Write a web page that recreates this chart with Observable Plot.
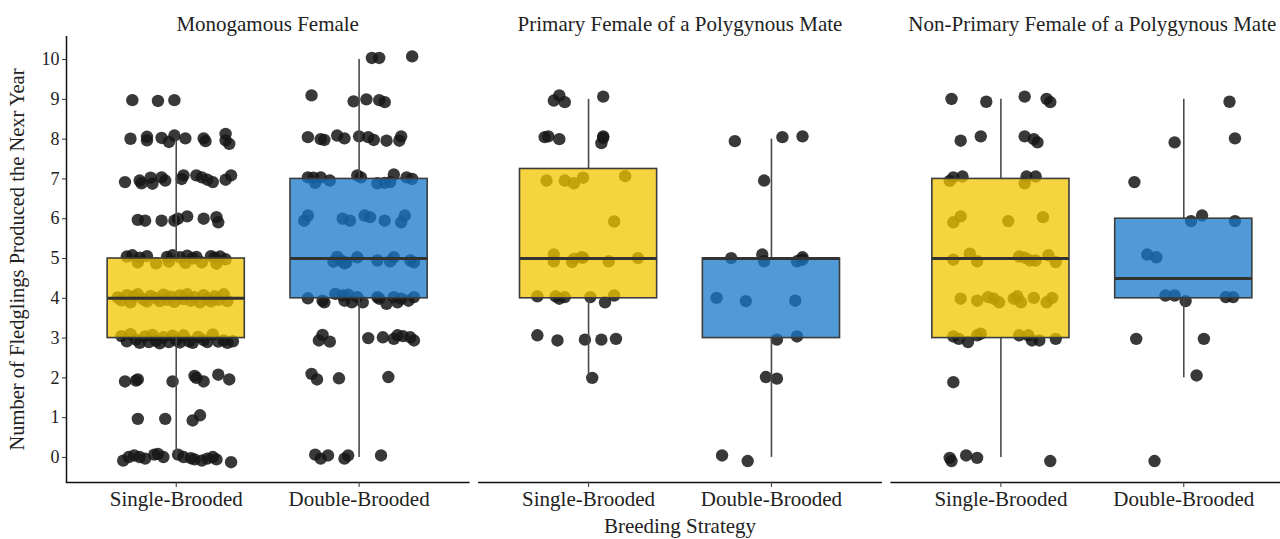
<!DOCTYPE html>
<html><head><meta charset="utf-8">
<script src="https://cdn.jsdelivr.net/npm/d3@7"></script>
<script src="https://cdn.jsdelivr.net/npm/@observablehq/plot@0.6"></script>
<style>
html,body{margin:0;padding:0;background:#fff;overflow:hidden;}
#chart svg{max-width:none !important;display:block;}
</style></head><body><div id="chart"></div>
<script>
// ---- categories & labels ----
const panels = ["Monogamous Female", "Primary Female of a Polygynous Mate", "Non-Primary Female of a Polygynous Mate"];
const groups = ["Single-Brooded", "Double-Brooded"];
const yTicks = [0,1,2,3,4,5,6,7,8,9,10];
const yLabel = "Number of Fledglings Produced the Nexr Year";
const xLabel = "Breeding Strategy";

// ---- box statistics ----
const boxPanel  = [panels[0], panels[0], panels[1], panels[1], panels[2], panels[2]];
const boxGroup  = [1, 2, 1, 2, 1, 2];
const boxQ1     = [3, 4, 4, 3, 3, 4];
const boxMedian = [4, 5, 5, 5, 5, 4.5];
const boxQ3     = [5, 7, 7.25, 5, 7, 6];
const whiskerLo = [0, 0, 2, 0, 0, 2];
const whiskerHi = [8, 10, 9, 8, 9, 9];

// ---- jittered observations (x jitter in group units, y as plotted) ----
const monoSingleJitter = [
 -0.24,-0.10,-0.01,
 -0.25,-0.16,-0.16,-0.08,-0.04,-0.01,0.05,0.15,0.16,0.27,0.29,0.27,
 -0.28,-0.20,-0.19,-0.14,-0.13,-0.08,-0.06,0.03,0.04,0.11,0.14,0.17,0.20,0.27,0.30,
 -0.21,-0.17,-0.08,-0.01,0.01,0.06,0.15,0.22,0.23,
 -0.27,-0.24,-0.20,-0.16,-0.05,-0.02,0.02,0.06,0.09,0.11,0.19,0.21,0.24,0.27,
 -0.21,-0.11,-0.04,0.05,0.14,0.22,
 -0.32,-0.30,-0.27,-0.25,-0.23,-0.21,-0.18,-0.16,-0.14,-0.11,-0.09,-0.07,-0.05,-0.03,-0.01,0.02,0.04,0.06,0.08,0.10,0.13,0.15,0.17,0.19,0.21,0.23,0.26,0.28,
 -0.30,-0.27,-0.25,-0.22,-0.20,-0.17,-0.15,-0.13,-0.11,-0.09,-0.07,-0.04,-0.02,0.00,0.02,0.04,0.07,0.09,0.12,0.15,0.17,0.20,0.23,0.26,0.28,0.31,
 -0.28,-0.22,-0.21,-0.02,0.10,0.11,0.15,0.23,0.29,
 -0.21,-0.06,0.09,0.13,
 -0.29,-0.26,-0.23,-0.20,-0.17,-0.12,-0.10,-0.07,0.01,0.04,0.08,0.10,0.14,0.17,0.20,0.22,0.30
];
const monoSingleValue = [
 8.98,8.96,8.98,
 8.01,8.06,7.97,8.03,7.93,8.09,8.02,8.02,7.95,8.13,7.88,7.97,
 6.92,6.96,6.89,7.03,6.88,7.04,6.96,7.0,7.09,7.09,7.04,6.98,6.92,6.98,7.09,
 5.97,5.95,5.95,5.95,6.0,6.06,6.0,6.04,5.91,
 5.05,5.08,5.02,5.06,5.04,5.08,5.03,5.07,5.0,5.04,5.06,5.02,5.05,4.98,
 4.9,4.88,4.92,4.89,4.9,4.87,
 4.02,3.95,4.08,3.9,4.05,4.1,3.97,3.92,4.06,4.0,3.93,4.09,3.96,4.04,3.91,4.07,3.98,4.1,3.94,4.03,3.9,4.08,3.99,3.92,4.05,3.96,4.1,3.93,
 3.05,2.92,3.1,2.96,2.88,3.04,2.9,3.08,2.93,2.87,3.02,2.9,3.06,2.94,2.89,3.07,2.92,2.88,3.03,2.95,2.9,3.09,2.91,2.94,2.88,2.92,
 1.91,1.93,1.96,1.91,2.05,2.0,1.91,2.08,1.96,
 0.97,0.97,0.93,1.06,
 -0.08,0.01,0.05,0.01,-0.03,0.07,0.09,0.01,0.07,0.01,-0.02,-0.05,-0.08,-0.03,0.01,-0.05,-0.12
];
const monoDoubleJitter = [
 0.07,0.11,0.29,
 -0.26,-0.03,0.04,0.11,0.14,
 -0.28,-0.21,-0.19,-0.12,-0.08,0.00,0.05,0.08,0.15,0.22,0.23,
 -0.28,-0.25,-0.21,-0.16,-0.01,0.01,0.10,0.17,0.19,0.26,0.29,-0.24,0.14,
 -0.30,-0.28,-0.09,-0.05,0.03,0.06,0.14,0.23,0.25,
 -0.14,-0.10,-0.07,-0.01,0.10,0.17,0.19,0.28,0.30,-0.12,-0.08,
 -0.28,-0.20,-0.19,-0.13,-0.09,-0.08,-0.06,-0.04,-0.01,0.02,0.10,0.11,0.15,0.19,0.21,0.23,0.27,0.30,
 -0.22,-0.20,-0.16,0.05,0.13,0.19,0.21,0.24,0.28,0.30,
 -0.26,-0.23,-0.11,0.16,
 -0.24,-0.21,-0.17,-0.08,-0.06,0.12
];
const monoDoubleValue = [
 10.04,10.04,10.08,
 9.1,8.95,9.0,8.98,8.93,
 8.05,8.0,7.98,8.09,8.02,8.07,8.05,7.98,7.96,7.96,8.07,
 7.04,7.03,7.04,6.96,7.09,7.04,6.89,6.92,7.11,7.04,7.0,6.9,6.9,
 5.95,6.08,6.0,5.95,6.08,6.04,5.95,5.91,6.08,
 4.92,4.95,4.9,5.03,4.95,4.93,5.03,4.95,4.9,5.04,4.88,
 4.0,3.94,3.9,4.11,4.07,3.94,4.09,3.9,4.03,3.9,4.03,3.99,3.86,4.03,3.9,3.99,3.94,4.03,
 2.94,3.08,2.91,3.0,3.02,2.98,3.07,3.05,3.02,2.94,
 2.1,1.96,1.99,2.02,
 0.07,-0.03,0.05,-0.03,0.05,0.05
];
const primSingleJitter = [
 -0.19,-0.16,-0.13,0.08,
 -0.24,-0.22,-0.16,0.07,0.08,0.08,
 -0.23,-0.13,-0.08,-0.03,0.20,
 0.14,
 -0.19,-0.19,-0.09,-0.08,-0.04,-0.03,0.11,0.27,
 -0.28,-0.18,-0.16,-0.13,0.01,0.09,0.14,
 -0.28,-0.17,-0.02,0.07,0.15,
 0.02
];
const primSingleValue = [
 8.97,9.1,8.93,9.07,
 8.05,8.07,8.0,7.9,8.03,8.07,
 6.96,6.96,6.89,7.03,7.07,
 5.93,
 5.1,4.93,4.91,4.99,5.03,5.02,4.93,5.01,
 4.05,4.05,3.99,4.03,4.03,3.9,4.07,
 3.07,2.94,2.96,2.96,2.98,
 2.0
];
const primDoubleJitter = [
 -0.20,0.06,0.17,
 -0.04,
 -0.22,-0.05,-0.04,0.14,0.17,0.17,
 -0.30,-0.14,0.13,
 0.03,0.14,
 -0.03,0.03,
 -0.27,-0.13
];
const primDoubleValue = [
 7.95,8.05,8.07,
 6.96,
 5.01,5.1,4.93,4.93,5.03,4.97,
 4.01,3.93,3.94,
 2.96,3.04,
 2.02,1.98,
 0.05,-0.09
];
const nonSingleJitter = [
 -0.27,-0.08,0.13,0.25,0.27,
 -0.22,-0.11,0.13,0.18,0.20,
 -0.28,-0.26,-0.21,0.13,0.14,0.19,
 -0.26,-0.22,0.04,0.23,
 -0.26,-0.17,-0.13,0.10,0.13,0.16,0.19,0.26,0.30,
 -0.22,-0.13,-0.07,-0.04,-0.01,0.07,0.09,0.11,0.18,0.25,0.28,
 -0.26,-0.23,-0.18,-0.13,-0.11,0.10,0.15,0.17,0.21,0.30,
 -0.26,
 -0.28,-0.27,-0.19,-0.13,0.27
];
const nonSingleValue = [
 9.01,8.94,9.07,9.01,8.93,
 7.96,8.07,8.07,8.0,7.92,
 6.95,7.04,7.06,6.89,7.06,7.06,
 5.91,6.06,5.94,6.04,
 4.97,5.12,4.93,5.05,5.02,4.95,4.95,5.08,4.91,
 3.99,3.94,4.03,3.99,3.9,3.99,4.05,3.9,4.01,3.9,4.01,
 3.04,2.98,2.9,3.07,3.11,3.07,3.07,2.94,2.94,2.98,
 1.89,
 -0.01,-0.09,0.05,-0.01,-0.09
];
const nonDoubleJitter = [0.25, -0.05,0.28, -0.27, 0.04,0.10,0.28, -0.20,-0.15, -0.10,-0.05,0.01,0.23,0.27, -0.26,0.11, 0.07, -0.16];
const nonDoubleValue  = [8.94, 7.92,8.02, 6.92, 5.94,6.08,5.94, 5.1,5.03, 4.07,4.07,3.93,4.03,4.03, 2.98,2.98, 2.06, -0.09];

// ---- build tables ----
const series = [
  [panels[0], 1, monoSingleJitter, monoSingleValue],
  [panels[0], 2, monoDoubleJitter, monoDoubleValue],
  [panels[1], 1, primSingleJitter, primSingleValue],
  [panels[1], 2, primDoubleJitter, primDoubleValue],
  [panels[2], 1, nonSingleJitter, nonSingleValue],
  [panels[2], 2, nonDoubleJitter, nonDoubleValue]
];
const points = [];
for (const [panel, g, jit, val] of series) {
  const n = Math.min(jit.length, val.length);
  for (let i = 0; i < n; i++) points.push({panel, x: g + jit[i], y: val[i]});
}
const boxes = boxPanel.map((p, i) => ({
  panel: p, g: boxGroup[i], group: groups[boxGroup[i] - 1],
  q1: boxQ1[i], med: boxMedian[i], q3: boxQ3[i], lo: whiskerLo[i], hi: whiskerHi[i]
}));

const halfBox = 0.375;
const chart = Plot.plot({
  width: 1293, height: 539,
  marginLeft: 66, marginRight: 0, marginTop: 36, marginBottom: 57,
  style: {fontFamily: "'Liberation Serif', 'DejaVu Serif', serif", fontSize: "21px", color: "#222", background: "#fff", maxWidth: "none"},
  fx: {domain: panels, paddingInner: 0.0243, paddingOuter: 0, round: false, axis: null, label: null},
  x: {type: "linear", domain: [0.4, 2.6], axis: null},
  y: {domain: [-0.63, 10.58], axis: null},
  color: {domain: groups, range: ["#F2C500", "#1579C9"]},
  marks: [
    Plot.dot(points, {fx: "panel", x: "x", y: "y", r: 6.2, fill: "#161616", fillOpacity: 0.85, stroke: "none"}),
    Plot.ruleX(boxes, {fx: "panel", x: "g", y1: "lo", y2: "q1", stroke: "#4a4a4a", strokeWidth: 1.6}),
    Plot.ruleX(boxes, {fx: "panel", x: "g", y1: "q3", y2: "hi", stroke: "#4a4a4a", strokeWidth: 1.6}),
    Plot.rect(boxes, {fx: "panel", x1: d => d.g - halfBox, x2: d => d.g + halfBox, y1: "q1", y2: "q3",
      fill: "group", fillOpacity: 0.75, stroke: "#3d3d3d", strokeWidth: 1.6}),
    Plot.ruleY(boxes, {fx: "panel", y: "med", x1: d => d.g - halfBox, x2: d => d.g + halfBox, stroke: "#333", strokeWidth: 3}),
    Plot.frame({anchor: "bottom", stroke: "#111", strokeWidth: 1.5}),
    Plot.ruleX([0.4], {fx: () => panels[0], stroke: "#111", strokeWidth: 1.5}),
    Plot.axisX({ticks: [1, 2], tickFormat: d => groups[d - 1], tickSize: 5, tickPadding: 4, fontSize: 21, label: null, stroke: "#333"}),
    Plot.axisY({ticks: yTicks, tickSize: 4, tickPadding: 3, fontSize: 18, label: null, stroke: "#333"}),
    Plot.axisFx({anchor: "top", tickSize: 0, tickPadding: 6, fontSize: 21, label: null}),
    Plot.text([yLabel], {fx: () => panels[0], frameAnchor: "left", textAnchor: "middle", lineAnchor: "middle", rotate: -90, dx: -49, fontSize: 20.5, fill: "#222", text: d => d}),
    Plot.text([xLabel], {fx: () => panels[1], frameAnchor: "bottom", textAnchor: "middle", lineAnchor: "middle", dy: 44, fontSize: 21, fill: "#222", text: d => d})
  ]
});
document.getElementById("chart").appendChild(chart);
</script>
</body></html>
